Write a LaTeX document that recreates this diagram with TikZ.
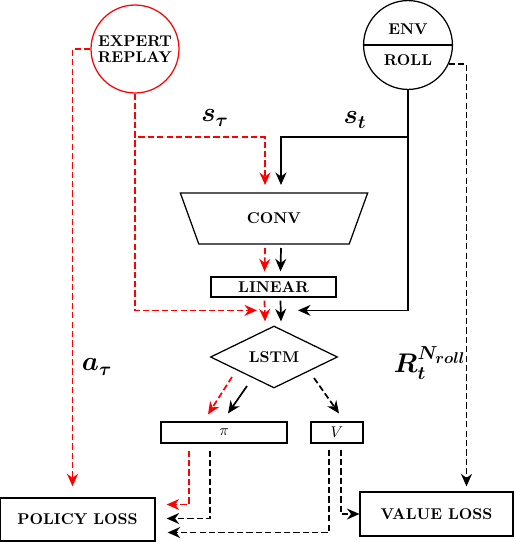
\documentclass[tikz,border=0pt]{standalone}
\usepackage{amsmath}
\usepackage{amssymb}
\usepackage{bm}
\usetikzlibrary{shapes.geometric,shapes.multipart,arrows.meta,calc}

\tikzset{
  block/.style={draw,thick,rectangle,inner sep=0pt,font=\bfseries},
  bubble/.style={draw,thick,circle,inner sep=0pt,minimum size=1.98cm,font=\bfseries,align=center},
  flow/.style={line width=1.1pt,-{Stealth[length=8pt,width=7pt]}},
  redflow/.style={flow,red,dash pattern=on 4pt off 2pt},
  dashflow/.style={flow,dash pattern=on 4pt off 2pt},
  symb/.style={font=\LARGE}
}

\begin{document}
\begin{tikzpicture}[x=0.0225cm,y=-0.0225cm]
\useasboundingbox (0,0) rectangle (514,542);

% nodes
\node[bubble,draw=red] (expert) at (135,49) {EXPERT\\[-2pt]REPLAY};
\node[bubble,circle split,inner xsep=0pt,inner ysep=6pt,minimum size=2.0cm] (env) at (408,45) {ENV\nodepart{lower}ROLL};
\node[draw,thick,trapezium,trapezium angle=59,trapezium stretches=true,shape border rotate=180,
      minimum width=4.23cm,minimum height=1.15cm,inner sep=0pt,font=\bfseries] (conv) at (274,218.5) {CONV};
\node[block,minimum width=2.81cm,minimum height=0.45cm] (linear) at (273.5,287) {LINEAR};
\node[draw,thick,diamond,inner sep=0pt,minimum width=2.86cm,minimum height=1.395cm,font=\bfseries] (lstm) at (274,357) {LSTM};
\node[block,minimum width=2.835cm,minimum height=0.47cm] (pi) at (224,432.5) {$\pi$};
\node[block,minimum width=1.17cm,minimum height=0.47cm] (v) at (337,432.5) {$V$};
\node[block,minimum width=3.49cm,minimum height=0.97cm] (policy) at (77.5,519.5) {POLICY LOSS};
\node[block,minimum width=3.44cm,minimum height=0.99cm] (value) at (436.5,514) {VALUE LOSS};

% labels
\node[symb] (stau) at (215,118) {$\bm{s_\tau}$};
\node[symb] (st) at (355,120) {$\bm{s_t}$};
\node[symb] (atau) at (97,367) {$\bm{a_\tau}$};
\node[symb] (rt) at (430,363) {$\bm{R_t^{N_{roll}}}$};

% expert replay
\draw[redflow] (expert.south) |- ($(conv.center)+(-9,-81.5)$) -- ($(conv.center)+(-9,-33.5)$);
\draw[redflow] (expert.south) |- ($(lstm.north)+(-17,-15)$);
\draw[redflow] (expert.west) -| ($(policy.north)+(-5,-11)$);

% environment
\draw[flow] (env.south) |- ($(conv.center)+(7,-81.5)$) -- ($(conv.center)+(7,-33.5)$);
\draw[flow] (env.south) |- ($(lstm.north)+(24,-15)$);
\draw[dashflow] (env.-25) -| ($(value.north)+(30,-5)$);

% network
\draw[redflow] ($(conv.center)+(-9,29.5)$) -- ($(linear.north)+(-9,-5)$);
\draw[flow] ($(conv.center)+(7,29.5)$) -- ($(linear.north)+(7,-5)$);
\draw[redflow] ($(linear.south)+(-9,3)$) -- ($(lstm.north)+(-9,-4)$);
\draw[flow] ($(linear.south)+(7,3)$) -- ($(lstm.north)+(7,-4)$);
\draw[redflow] ($(lstm.center)+(-42,20)$) -- ($(pi.north)+(-16,-7)$);
\draw[flow] ($(lstm.center)+(-27,29)$) -- ($(pi.north)+(4,-8)$);
\draw[dashflow] ($(lstm.center)+(40,21)$) -- ($(v.north)+(2,-8)$);

% losses
\draw[redflow] ($(pi.south)+(-35,7)$) |- ($(policy.east)+(11,-15)$);
\draw[dashflow] ($(pi.south)+(-14,7)$) |- ($(policy.east)+(11,-1)$);
\draw[dashflow] ($(v.south)+(-8,6)$) |- ($(policy.east)+(12,13)$);
\draw[dashflow] ($(v.south)+(4,6)$) |- (value.west);
\end{tikzpicture}
\end{document}
